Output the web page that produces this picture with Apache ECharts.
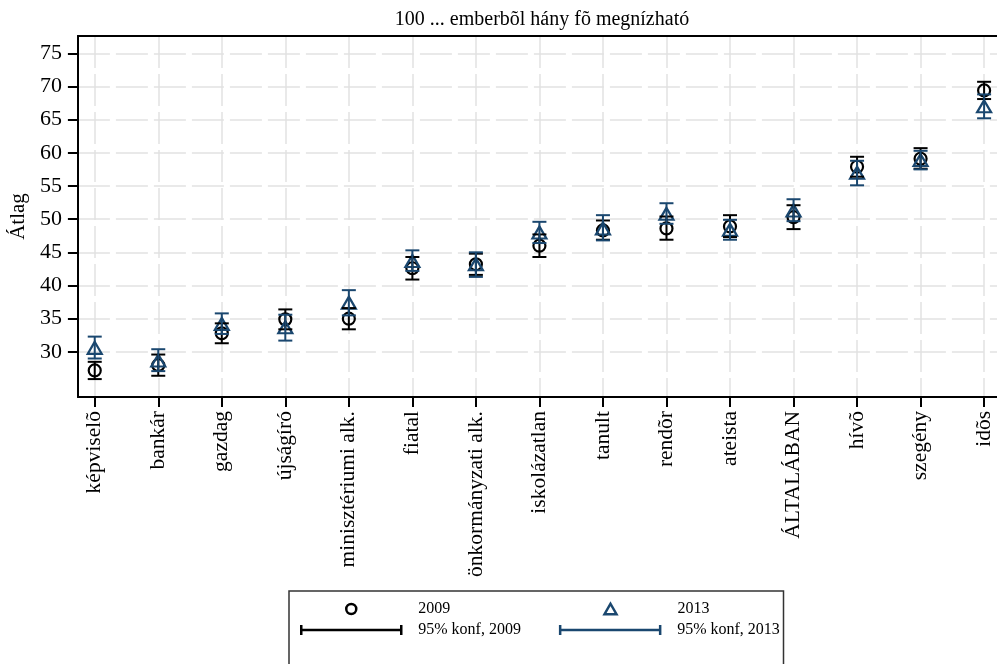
<!DOCTYPE html>
<html>
<head>
<meta charset="utf-8">
<script src="https://cdn.jsdelivr.net/npm/echarts@6/dist/echarts.min.js"></script>
<style>
html, body { margin: 0; padding: 0; background: #fff; }
#main { width: 997px; height: 664px; }
</style>
</head>
<body>
<div id="main"></div>
<script>
var cats = ['képviselõ', 'bankár', 'gazdag', 'újságíró', 'minisztériumi alk.', 'fiatal', 'önkormányzati alk.', 'iskolázatlan', 'tanult', 'rendõr', 'ateista', 'ÁLTALÁBAN', 'hívõ', 'szegény', 'idõs'];
// 2009 átlag és 95% konf. intervallum
var m09 = [27.2, 28.0, 32.8, 34.9, 35.0, 42.6, 43.2, 46.0, 48.3, 48.6, 48.9, 50.3, 57.9, 59.1, 69.4];
var lo09 = [25.9, 26.4, 31.3, 33.4, 33.4, 40.9, 41.6, 44.3, 46.9, 46.9, 47.3, 48.5, 56.4, 57.6, 68.1];
var hi09 = [28.5, 29.6, 34.3, 36.4, 36.6, 44.3, 44.8, 47.7, 49.8, 50.4, 50.6, 52.1, 59.4, 60.7, 70.7];
// 2013
var m13 = [30.6, 28.7, 34.2, 33.7, 37.4, 43.7, 43.2, 48.0, 48.6, 50.8, 48.4, 51.3, 57.0, 58.9, 67.0];
var lo13 = [29.0, 27.1, 32.7, 31.7, 35.5, 42.2, 41.3, 46.4, 46.8, 49.3, 46.9, 49.7, 55.1, 57.5, 65.2];
var hi13 = [32.3, 30.4, 35.8, 35.6, 39.3, 45.3, 45.0, 49.6, 50.6, 52.4, 49.9, 53.0, 58.8, 60.3, 68.8];
var yTicks = [30, 35, 40, 45, 50, 55, 60, 65, 70, 75];

var BLACK = '#000000';
var NAVY = '#1a476f';
var FONT = '"Liberation Serif", "DejaVu Serif", serif';

var main = echarts.init(document.getElementById('main'));

var xIdx = [];
var pts09 = [], pts13 = [], ci09 = [], ci13 = [];
for (var i = 0; i < cats.length; i++) {
	xIdx.push(i);
	pts09.push([i, m09[i]]);
	pts13.push([i, m13[i]]);
	ci09.push([i, lo09[i], hi09[i]]);
	ci13.push([i, lo13[i], hi13[i]]);
}

function errBar(color) {
	return function (params, api) {
		var top = api.coord([api.value(0), api.value(2)]);
		var bot = api.coord([api.value(0), api.value(1)]);
		var w = 7;
		var st = { stroke: color, lineWidth: 2, fill: null };
		return {
			type: 'group',
			children: [
				{ type: 'line', shape: { x1: top[0], y1: top[1], x2: bot[0], y2: bot[1] }, style: st },
				{ type: 'line', shape: { x1: top[0] - w, y1: top[1], x2: top[0] + w, y2: top[1] }, style: st },
				{ type: 'line', shape: { x1: bot[0] - w, y1: bot[1], x2: bot[0] + w, y2: bot[1] }, style: st }
			]
		};
	};
}

var gridLine = { show: true, lineStyle: { color: '#e2e2e2', width: 1.5, type: [32, 6] } };
// ikonok: a jelölõ középen, a 100 px széles sáv közepén
var circIcon = 'path://M-50,0M50,0M-5,0A5,5,0,1,1,5,0A5,5,0,1,1,-5,0Z';
var triIcon = 'path://M-50,0M50,0M0,-5.5L6,5L-6,5Z';
var barIcon = 'path://M0,-5L0,5M0,0L100,0M100,-5L100,5';
var legText = { fontFamily: FONT, fontSize: 16, color: '#000', padding: [0, 0, 0, 12] };
var axLine = { show: true, onZero: false, lineStyle: { color: '#000', width: 2 } };

option = {
	animation: false,
	title: {
		text: '100 ... emberbõl hány fõ megnízható',
		left: 537,
		textAlign: 'center',
		top: 5,
		textStyle: { fontFamily: FONT, fontWeight: 'normal', fontSize: 20, color: '#000' }
	},
	grid: {
		left: 77, top: 36, right: -6, bottom: 267
	},
	legend: [{
		data: [
			{ name: '2009', icon: circIcon, itemStyle: { color: 'rgba(0,0,0,0)', borderColor: BLACK, borderWidth: 2.5 } },
			{ name: '2013', icon: triIcon, itemStyle: { color: 'rgba(0,0,0,0)', borderColor: NAVY, borderWidth: 2.5 } }
		],
		left: 289, top: 591,
		align: 'left',
		padding: [10, 74, 60, 11],
		itemWidth: 100, itemHeight: 11, itemGap: 109,
		borderColor: '#333', borderWidth: 1.5,
		textStyle: legText
	}, {
		data: [
			{ name: '95% konf, 2009', icon: barIcon, itemStyle: { color: 'rgba(0,0,0,0)', borderColor: BLACK, borderWidth: 2.5 } },
			{ name: '95% konf, 2013', icon: barIcon, itemStyle: { color: 'rgba(0,0,0,0)', borderColor: NAVY, borderWidth: 2.5 } }
		],
		left: 289, top: 617,
		align: 'left',
		padding: [5, 11, 5, 11],
		itemWidth: 100, itemHeight: 11, itemGap: 38,
		textStyle: legText
	}],
	xAxis: [{
		type: 'value',
		min: -0.265,
		max: 14.203,
		axisLine: axLine,
		axisTick: { show: true, length: 10, customValues: xIdx, lineStyle: { color: '#000', width: 2 } },
		axisLabel: {
			customValues: xIdx,
			rotate: 90,
			margin: 14,
			fontFamily: FONT, fontSize: 21.5, color: '#000',
			formatter: function (v) { return cats[Math.round(v)]; }
		},
		splitLine: gridLine
	}, {
		// felsõ keret
		type: 'value',
		position: 'top',
		min: -0.265,
		max: 14.203,
		axisLine: axLine,
		axisTick: { show: false },
		axisLabel: { show: false },
		splitLine: { show: false }
	}],
	yAxis: {
		type: 'value',
		min: 23.2,
		max: 77.6,
		name: 'Átlag',
		nameLocation: 'middle',
		nameGap: 37,
		nameTextStyle: { fontFamily: FONT, fontSize: 21, color: '#000' },
		axisLine: axLine,
		axisTick: { show: true, length: 10, customValues: yTicks, lineStyle: { color: '#000', width: 2 } },
		axisLabel: { customValues: yTicks, margin: 16, fontFamily: FONT, fontSize: 22, color: '#000' },
		splitLine: gridLine
	},
	series: [{
		name: '2009',
		type: 'scatter',
		data: pts09,
		symbol: 'circle',
		symbolSize: 12,
		z: 3,
		itemStyle: { color: 'rgba(0,0,0,0)', borderColor: BLACK, borderWidth: 2.2, opacity: 1 }
	}, {
		name: '2013',
		type: 'scatter',
		data: pts13,
		symbol: 'triangle',
		symbolSize: [14, 12],
		z: 3,
		itemStyle: { color: 'rgba(0,0,0,0)', borderColor: NAVY, borderWidth: 2.2, opacity: 1 }
	}, {
		name: '95% konf, 2009',
		type: 'custom',
		data: ci09,
		z: 4,
		renderItem: errBar(BLACK),
		itemStyle: { color: BLACK }
	}, {
		name: '95% konf, 2013',
		type: 'custom',
		data: ci13,
		z: 4,
		renderItem: errBar(NAVY),
		itemStyle: { color: NAVY }
	}]
};
main.setOption(option);
</script>
</body>
</html>
